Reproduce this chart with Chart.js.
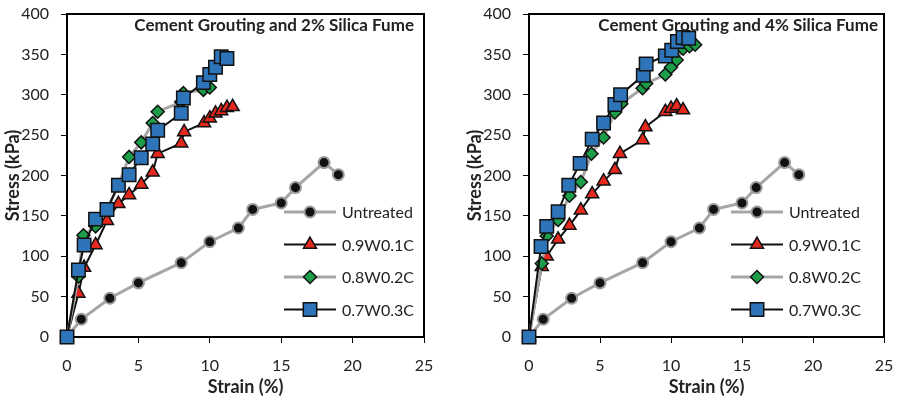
<!DOCTYPE html>
<html>
<head>
<meta charset="utf-8">
<script src="https://cdn.jsdelivr.net/npm/chart.js@4.4.0/dist/chart.umd.min.js"></script>
<style>
  body { margin: 0; background: #fff; }
  .wrap { position: absolute; top: 0; height: 399px; }
</style>
</head>
<body>
<div class="wrap" style="left:0;width:448px"><canvas id="left" width="448" height="399"></canvas></div>
<div class="wrap" style="left:448px;width:449px"><canvas id="right" width="449" height="399"></canvas></div>
<script>
// ---- data ----
const seriesNames = ['Untreated', '0.9W0.1C', '0.8W0.2C', '0.7W0.3C'];
const xTicks = [0, 5, 10, 15, 20, 25];
const yTicks = [0, 50, 100, 150, 200, 250, 300, 350, 400];

// untreated soil (same curve in both panels)
const untreatedStrain = [0, 1, 3, 5, 8, 10, 12, 13, 15, 16, 18, 19];
const untreatedStress = [0, 22, 48, 67, 92, 118, 135, 158, 166, 185, 216, 201];

// 2% silica fume
const sf2W91Strain = [0, 0.8, 1.2, 2, 2.8, 3.6, 4.35, 5.2, 6, 6.35, 8, 8.2, 9.6, 10, 10.4, 10.8, 11.2, 11.6];
const sf2W91Stress = [0, 54, 86, 114, 144, 165, 176, 189, 204, 227, 240, 254, 265, 271, 277, 280, 284, 285];
const sf2W82Strain = [0, 0.8, 1.15, 2, 2.8, 3.6, 4.35, 5.2, 6, 6.35, 8, 8.15, 9.55, 10];
const sf2W82Stress = [0, 75, 126, 137, 157, 188, 223, 241, 265, 279, 291, 302, 306, 309];
const sf2W73Strain = [0, 0.8, 1.2, 2, 2.8, 3.6, 4.35, 5.2, 6, 6.35, 8, 8.15, 9.55, 10, 10.4, 10.8, 11.2];
const sf2W73Stress = [0, 83, 114, 146, 158, 188, 201, 222, 239, 256, 277, 296, 315, 325, 334, 347, 345];

// 4% silica fume
const sf4W91Strain = [0, 0.9, 1.25, 2.05, 2.85, 3.65, 4.45, 5.25, 6.05, 6.4, 8, 8.2, 9.6, 10.0, 10.4, 10.85];
const sf4W91Stress = [0, 87, 100, 121, 138, 157, 177, 193, 207, 227, 244, 260, 279, 283, 286, 281];
const sf4W82Strain = [0, 0.9, 1.25, 2.05, 2.85, 3.65, 4.4, 5.25, 6.05, 6.5, 8.0, 8.25, 9.6, 10.0, 10.4, 10.85, 11.3, 11.7];
const sf4W82Stress = [0, 91, 125, 145, 175, 192, 227, 247, 278, 289, 308, 314, 325, 334, 343, 357, 360, 362];
const sf4W73Strain = [0, 0.85, 1.25, 2.05, 2.8, 3.6, 4.45, 5.25, 6.05, 6.45, 8.05, 8.25, 9.6, 10.05, 10.45, 10.85, 11.25];
const sf4W73Stress = [0, 112, 137, 155, 188, 215, 245, 265, 288, 300, 324, 338, 348, 355, 366, 371, 370];

const FONT = 'Lato, "Open Sans", sans-serif';
const TEXT = '#222';

function pts(xs, ys) {
  return xs.map((x, i) => ({ x: x, y: ys[i] }));
}

function makeDatasets(sets) {
  const styles = [
    { borderColor: '#a6a6a6', borderWidth: 3, pointStyle: 'circle', pointRadius: 5.5,
      pointBackgroundColor: '#111', pointBorderColor: '#9a9a9a', pointBorderWidth: 2, order: 4 },
    { borderColor: '#111', borderWidth: 2, pointStyle: 'triangle', pointRadius: 7.5,
      pointBackgroundColor: '#e5281d', pointBorderColor: '#111', pointBorderWidth: 1.5, order: 3 },
    { borderColor: '#a6a6a6', borderWidth: 3, pointStyle: 'rectRot', pointRadius: 6.5,
      pointBackgroundColor: '#1c9e48', pointBorderColor: '#111', pointBorderWidth: 1.5, order: 2 },
    { borderColor: '#111', borderWidth: 2, pointStyle: 'rect', pointRadius: 9.5,
      pointBackgroundColor: '#2e74b8', pointBorderColor: '#111', pointBorderWidth: 1.5, order: 1 }
  ];
  return sets.map((s, i) => Object.assign({
    label: seriesNames[i],
    data: pts(s[0], s[1]),
    showLine: true,
    clip: false,
    pointHoverRadius: styles[i].pointRadius
  }, styles[i]));
}

// title, frame and legend drawn inside the plot area
const panelPlugin = {
  id: 'panel',
  beforeDatasetsDraw(chart) {
    const a = chart.chartArea, ctx = chart.ctx;
    ctx.save();
    ctx.strokeStyle = '#000';
    ctx.lineWidth = 2;
    ctx.strokeRect(a.left, a.top, a.right - a.left, a.bottom - a.top);
    ctx.restore();
  },
  afterDraw(chart, args, opts) {
    const a = chart.chartArea, ctx = chart.ctx;
    ctx.save();
    ctx.fillStyle = TEXT;
    ctx.font = 'bold 17px ' + FONT;
    ctx.textAlign = 'right';
    ctx.textBaseline = 'middle';
    ctx.fillText(opts.title, a.right - opts.titleInset, a.top + 12);

    ctx.font = '16px ' + FONT;
    ctx.textAlign = 'left';
    chart.data.datasets.forEach((ds, i) => {
      const y = opts.legendTop + i * 32.5;
      const x0 = a.right - opts.legendLine;
      ctx.strokeStyle = ds.borderColor;
      ctx.lineWidth = ds.borderWidth;
      ctx.beginPath();
      ctx.moveTo(x0, y);
      ctx.lineTo(x0 + 52, y);
      ctx.stroke();
      ctx.fillStyle = ds.pointBackgroundColor;
      ctx.strokeStyle = ds.pointBorderColor;
      ctx.lineWidth = ds.pointBorderWidth;
      Chart.helpers.drawPoint(ctx, {
        pointStyle: ds.pointStyle, radius: ds.pointRadius, rotation: 0, borderWidth: ds.pointBorderWidth
      }, x0 + 26, y);
      ctx.fillStyle = TEXT;
      ctx.fillText(ds.label, x0 + 58, y + 1);
    });
    ctx.restore();
  }
};

function makeChart(id, sets, title, pad, legend) {
  return new Chart(document.getElementById(id), {
    type: 'scatter',
    data: { datasets: makeDatasets(sets) },
    plugins: [panelPlugin],
    options: {
      responsive: false,
      animation: false,
      devicePixelRatio: 1,
      layout: { padding: pad },
      plugins: {
        legend: { display: false },
        tooltip: { enabled: false },
        panel: Object.assign({ title: title }, legend)
      },
      scales: {
        x: {
          type: 'linear', min: 0, max: 25,
          afterBuildTicks: s => { s.ticks = xTicks.map(v => ({ value: v })); },
          // fixed axis box, no extra overhang padding from the labels
          afterFit: s => { s.height = 62; s.paddingLeft = 0; s.paddingRight = 0; },
          border: { display: false },
          grid: { drawOnChartArea: false, drawTicks: true, tickLength: 6, color: '#000', lineWidth: 1 },
          ticks: { color: TEXT, font: { family: FONT, size: 16 }, padding: 13 },
          title: { display: true, text: 'Strain (%)', color: TEXT,
                   font: { family: FONT, size: 18, weight: 'bold' }, padding: { top: 0, bottom: 1 } }
        },
        y: {
          type: 'linear', min: 0, max: 400,
          afterBuildTicks: s => { s.ticks = yTicks.map(v => ({ value: v })); },
          afterFit: s => { s.width = 67; s.paddingTop = 0; s.paddingBottom = 0; },
          border: { display: false },
          grid: { drawOnChartArea: false, drawTicks: true, tickLength: 6, color: '#000', lineWidth: 1 },
          ticks: { color: TEXT, font: { family: FONT, size: 16 }, padding: 12 },
          title: { display: true, text: 'Stress (kPa)', color: TEXT,
                   font: { family: FONT, size: 18, weight: 'bold' }, padding: { top: 2, bottom: 0 } }
        }
      }
    }
  });
}

makeChart('left', [
  [untreatedStrain, untreatedStress],
  [sf2W91Strain, sf2W91Stress],
  [sf2W82Strain, sf2W82Stress],
  [sf2W73Strain, sf2W73Stress]
], 'Cement Grouting and 2% Silica Fume', { left: 0, top: 14, right: 24, bottom: 0 },
   { titleInset: 10, legendTop: 212, legendLine: 140 });

makeChart('right', [
  [untreatedStrain, untreatedStress],
  [sf4W91Strain, sf4W91Stress],
  [sf4W82Strain, sf4W82Stress],
  [sf4W73Strain, sf4W73Stress]
], 'Cement Grouting and 4% Silica Fume', { left: 14, top: 14, right: 13, bottom: 0 },
   { titleInset: 6, legendTop: 212, legendLine: 153 });
</script>
</body>
</html>
